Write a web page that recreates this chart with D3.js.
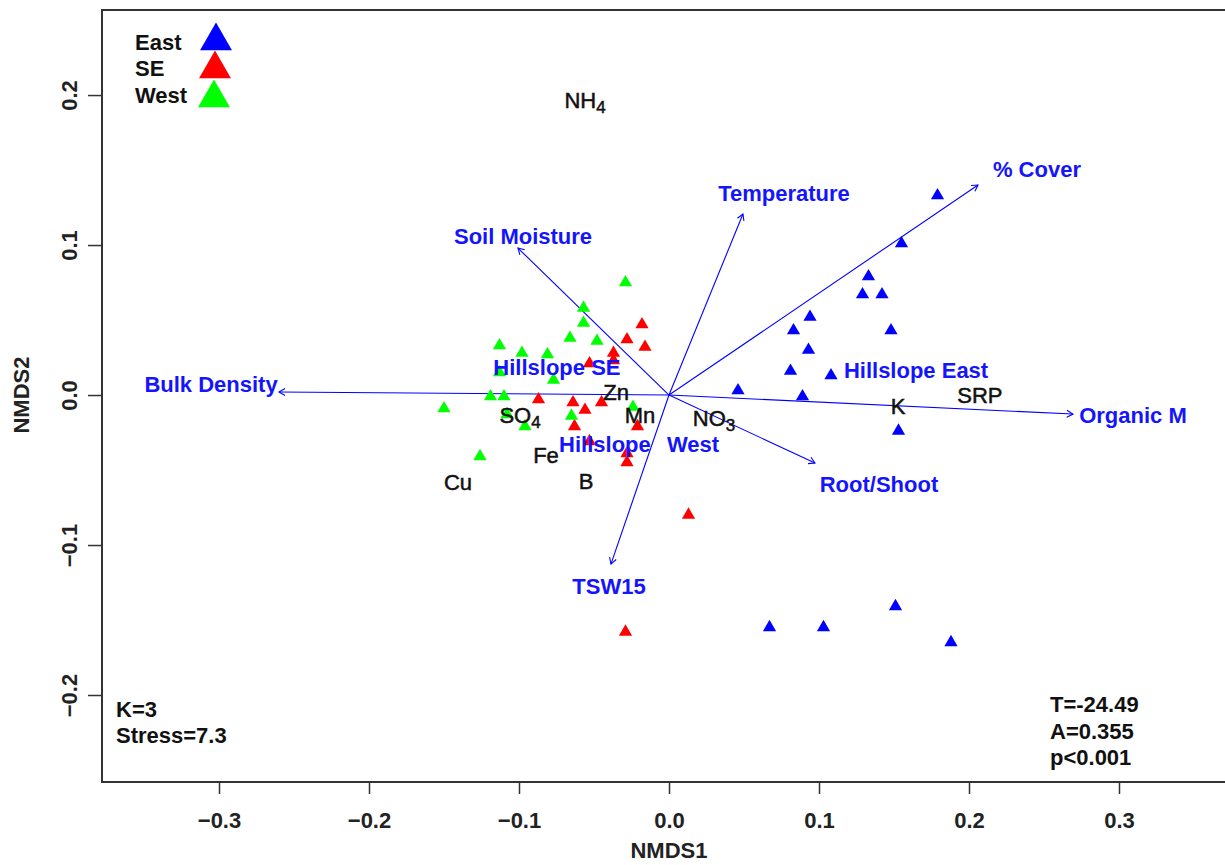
<!DOCTYPE html>
<html>
<head>
<meta charset="utf-8">
<script src="https://cdn.jsdelivr.net/npm/d3@7"></script>
<style>
  html, body { margin: 0; padding: 0; background: #fff; }
  svg { display: block; font-family: "Liberation Sans", Arial, sans-serif; }
</style>
</head>
<body>
<svg id="chart" width="1225" height="865"></svg>
<script>
// ---------- data ----------
const groups = ["East", "SE", "West"];
const groupColors = ["#0000ff", "#ff0000", "#00ff00"];

const eastPoints = [
  [0.179, 0.133], [0.155, 0.101], [0.133, 0.079], [0.129, 0.067], [0.142, 0.067],
  [0.094, 0.052], [0.083, 0.043], [0.148, 0.043], [0.093, 0.030], [0.081, 0.016],
  [0.108, 0.013], [0.046, 0.003], [0.089, -0.001], [0.153, -0.024],
  [0.067, -0.155], [0.103, -0.155], [0.151, -0.141], [0.188, -0.165]
];
const sePoints = [
  [-0.018, 0.047], [-0.028, 0.037], [-0.016, 0.032], [-0.037, 0.028], [-0.037, 0.023],
  [-0.053, 0.021], [-0.087, -0.003], [-0.064, -0.005], [-0.056, -0.010], [-0.045, -0.005],
  [-0.063, -0.021], [-0.021, -0.021], [-0.053, -0.031], [-0.028, -0.039], [-0.028, -0.045],
  [0.013, -0.080], [-0.029, -0.158]
];
const westPoints = [
  [-0.029, 0.075], [-0.057, 0.058], [-0.057, 0.048], [-0.066, 0.038], [-0.048, 0.036],
  [-0.113, 0.033], [-0.098, 0.028], [-0.081, 0.027], [-0.113, 0.015], [-0.077, 0.010],
  [-0.119, -0.001], [-0.110, -0.001], [-0.150, -0.009], [-0.108, -0.013], [-0.096, -0.021],
  [-0.065, -0.014], [-0.126, -0.041], [-0.024, -0.008]
];

// environmental vectors: name, arrow tip, label position
const vectorNames = ["% Cover", "Temperature", "Soil Moisture", "Bulk Density", "Organic M", "Root/Shoot", "TSW15"];
const vectorTips = [[0.206, 0.140], [0.0493, 0.1207], [-0.1007, 0.098], [-0.26, 0.002], [0.2693, -0.0127], [0.0973, -0.0453], [-0.0387, -0.1127]];
const vectorLabelPos = [[0.2453, 0.1507], [0.0767, 0.1347], [-0.0973, 0.106], [-0.3053, 0.0073], [0.3093, -0.0133], [0.14, -0.0593], [-0.04, -0.1273]];

// group centroid labels
const hillNames = ["Hillslope SE", "Hillslope East", "Hillslope", "West"];
const hillPos = [[-0.0747, 0.0187], [0.1647, 0.0167], [-0.0427, -0.0327], [0.016, -0.0327]];

// soil nutrient labels: [main, subscript]
const nutrientNames = [["NH", "4"], ["Zn", ""], ["Mn", ""], ["NO", "3"], ["SO", "4"], ["Fe", ""], ["Cu", ""], ["B", ""], ["K", ""], ["SRP", ""]];
const nutrientPos = [[-0.056, 0.1967], [-0.0353, 0.002], [-0.0193, -0.0133], [0.03, -0.0153], [-0.0993, -0.0133], [-0.082, -0.04], [-0.1407, -0.058], [-0.0553, -0.0573], [0.1527, -0.0073], [0.2073, 0.0]];

const xTicks = [-0.3, -0.2, -0.1, 0.0, 0.1, 0.2, 0.3];
const yTicks = [-0.2, -0.1, 0.0, 0.1, 0.2];
const statsLeft = ["K=3", "Stress=7.3"];
const statsRight = ["T=-24.49", "A=0.355", "p<0.001"];

// ---------- layout ----------
const svg = d3.select("#chart");
const x = d3.scaleLinear().domain([-0.378, 0.378]).range([102, 1236]);
const y = d3.scaleLinear().domain([-0.258, 0.2567]).range([782, 10]);
const FS = 22;
const fmt = v => (v < 0 ? "\u2212" : "") + Math.abs(v).toFixed(1);

// box
svg.append("rect")
  .attr("x", x.range()[0]).attr("y", y.range()[1])
  .attr("width", x.range()[1] - x.range()[0]).attr("height", y.range()[0] - y.range()[1])
  .attr("fill", "none").attr("stroke", "#333").attr("stroke-width", 2);

// x axis
const xAxis = d3.axisBottom(x).tickValues(xTicks).tickFormat(fmt).tickSize(12).tickPadding(18);
const gx = svg.append("g").attr("transform", `translate(0,${y.range()[0]})`).call(xAxis);
gx.select(".domain").remove();
gx.selectAll(".tick line").attr("stroke", "#333").attr("stroke-width", 1.5);
gx.selectAll(".tick text").attr("font-size", FS).attr("font-weight", "bold").attr("fill", "#222")
  .attr("font-family", "Liberation Sans, Arial, sans-serif");

// y axis
const yAxis = d3.axisLeft(y).tickValues(yTicks).tickFormat(fmt).tickSize(14).tickPadding(0);
const gy = svg.append("g").attr("transform", `translate(${x.range()[0]},0)`).call(yAxis);
gy.select(".domain").remove();
gy.selectAll(".tick line").attr("stroke", "#333").attr("stroke-width", 1.5);
gy.selectAll(".tick text")
  .attr("font-size", FS).attr("font-weight", "bold").attr("fill", "#222")
  .attr("font-family", "Liberation Sans, Arial, sans-serif")
  .attr("text-anchor", "middle").attr("x", 0).attr("dy", 0)
  .attr("transform", "translate(-25,0) rotate(-90)");

// axis titles
svg.append("text").attr("x", x(0)).attr("y", 858).attr("text-anchor", "middle")
  .attr("font-size", FS).attr("font-weight", "bold").attr("fill", "#222").text("NMDS1");
svg.append("text").attr("transform", `translate(29,${y(0)}) rotate(-90)`).attr("text-anchor", "middle")
  .attr("font-size", FS).attr("font-weight", "bold").attr("fill", "#222").text("NMDS2");

// vectors
const vg = svg.append("g").attr("stroke", "#0000ff").attr("stroke-width", 1.1).attr("fill", "none");
vectorTips.forEach(t => {
  const x0 = x(0), y0 = y(0), x1 = x(t[0]), y1 = y(t[1]);
  vg.append("line").attr("x1", x0).attr("y1", y0).attr("x2", x1).attr("y2", y1);
  const ang = Math.atan2(y1 - y0, x1 - x0), L = 7, a = Math.PI / 6;
  vg.append("path").attr("d",
    `M${x1 - L * Math.cos(ang - a)},${y1 - L * Math.sin(ang - a)}L${x1},${y1}L${x1 - L * Math.cos(ang + a)},${y1 - L * Math.sin(ang + a)}`);
});

// points
const tri = d3.symbol().type(d3.symbolTriangle).size(76);
[eastPoints, sePoints, westPoints].forEach((pts, i) => {
  svg.append("g").selectAll("path").data(pts).join("path")
    .attr("d", tri)
    .attr("transform", d => `translate(${x(d[0])},${y(d[1])})`)
    .attr("fill", groupColors[i]);
});

// vector labels
svg.append("g").selectAll("text").data(vectorNames).join("text")
  .attr("x", (d, i) => x(vectorLabelPos[i][0])).attr("y", (d, i) => y(vectorLabelPos[i][1]))
  .attr("dy", "0.36em").attr("text-anchor", "middle")
  .attr("font-size", FS).attr("font-weight", "bold").attr("fill", "#1414ff").text(d => d);

// hillslope labels
svg.append("g").selectAll("text").data(hillNames).join("text")
  .attr("x", (d, i) => x(hillPos[i][0])).attr("y", (d, i) => y(hillPos[i][1]))
  .attr("dy", "0.36em").attr("text-anchor", "middle")
  .attr("font-size", FS).attr("font-weight", "bold").attr("fill", "#1414ff").text(d => d);

// nutrient labels
const nt = svg.append("g").selectAll("text").data(nutrientNames).join("text")
  .attr("x", (d, i) => x(nutrientPos[i][0])).attr("y", (d, i) => y(nutrientPos[i][1]))
  .attr("dy", "0.36em").attr("text-anchor", "middle")
  .attr("font-size", FS).attr("fill", "#111")
  .attr("stroke", "#111").attr("stroke-width", 0.5);
nt.append("tspan").text(d => d[0]);
nt.filter(d => d[1]).append("tspan").attr("font-size", 17).attr("dy", "0.3em").text(d => d[1]);

// legend
const legY = [42, 68, 95];
const legTri = d3.symbol().type(d3.symbolTriangle).size(440);
groups.forEach((g, i) => {
  svg.append("text").attr("x", 135).attr("y", legY[i]).attr("dy", "0.36em")
    .attr("font-size", FS).attr("font-weight", "bold").attr("fill", "#111").text(g);
  svg.append("path").attr("d", legTri).attr("transform", `translate(${216 - i},${legY[i] - 1 + i * 2})`)
    .attr("fill", groupColors[i]);
});

// stats
statsLeft.forEach((s, i) => {
  svg.append("text").attr("x", 116).attr("y", 717 + i * 26)
    .attr("font-size", FS).attr("font-weight", "bold").attr("fill", "#111").text(s);
});
statsRight.forEach((s, i) => {
  svg.append("text").attr("x", 1050).attr("y", 712 + i * 26.5)
    .attr("font-size", FS).attr("font-weight", "bold").attr("fill", "#111").text(s);
});
</script>
</body>
</html>
